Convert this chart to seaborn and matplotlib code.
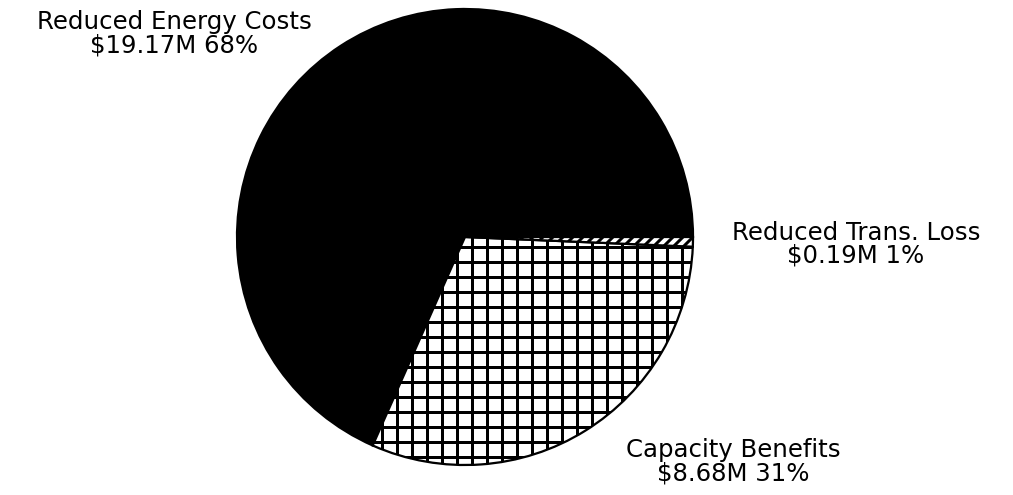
import matplotlib
matplotlib.use("Agg")
import matplotlib.pyplot as plt
import seaborn as sns

# Benefit components, $ millions
categories = ["Reduced Energy Costs", "Capacity Benefits", "Reduced Trans. Loss"]
values = [19.17, 8.68, 0.19]
hatches = ["", "+", "///"]
face_colors = ["black", "white", "white"]

sns.set_theme(style="white")
plt.rcParams["font.family"] = ["DejaVu Sans"]
plt.rcParams["hatch.linewidth"] = 2.4
plt.rcParams["hatch.color"] = "black"

DPI = 90
W, H = 1013, 495
fig = plt.figure(figsize=(W / DPI, H / DPI), dpi=DPI)
ax = fig.add_axes([0, 0, 1, 1])

cx, cy, r = 465, H - 237, 228
wedges, _ = ax.pie(values, startangle=0, counterclock=True, center=(cx, cy),
                   radius=r, colors=face_colors,
                   wedgeprops=dict(edgecolor="black", linewidth=1.8))
for w, h in zip(wedges, hatches):
    w.set_hatch(h)

ax.set_xlim(0, W)
ax.set_ylim(0, H)
ax.set_aspect("equal")
ax.axis("off")

total = sum(values)
# label anchor: horizontal centre and baseline of the second line
label_pos = {
    "Reduced Energy Costs": (174, H - 52),
    "Capacity Benefits": (733, H - 480),
    "Reduced Trans. Loss": (856, H - 263),
}
for name, v in zip(categories, values):
    pct = round(100 * v / total)
    x, y = label_pos[name]
    ax.text(x, y, f"{name}\n${v:.2f}M {pct}%", ha="center", va="baseline",
            fontsize=19.5, linespacing=0.97, color="black")

fig.savefig("out.png", dpi=DPI, facecolor="white")
